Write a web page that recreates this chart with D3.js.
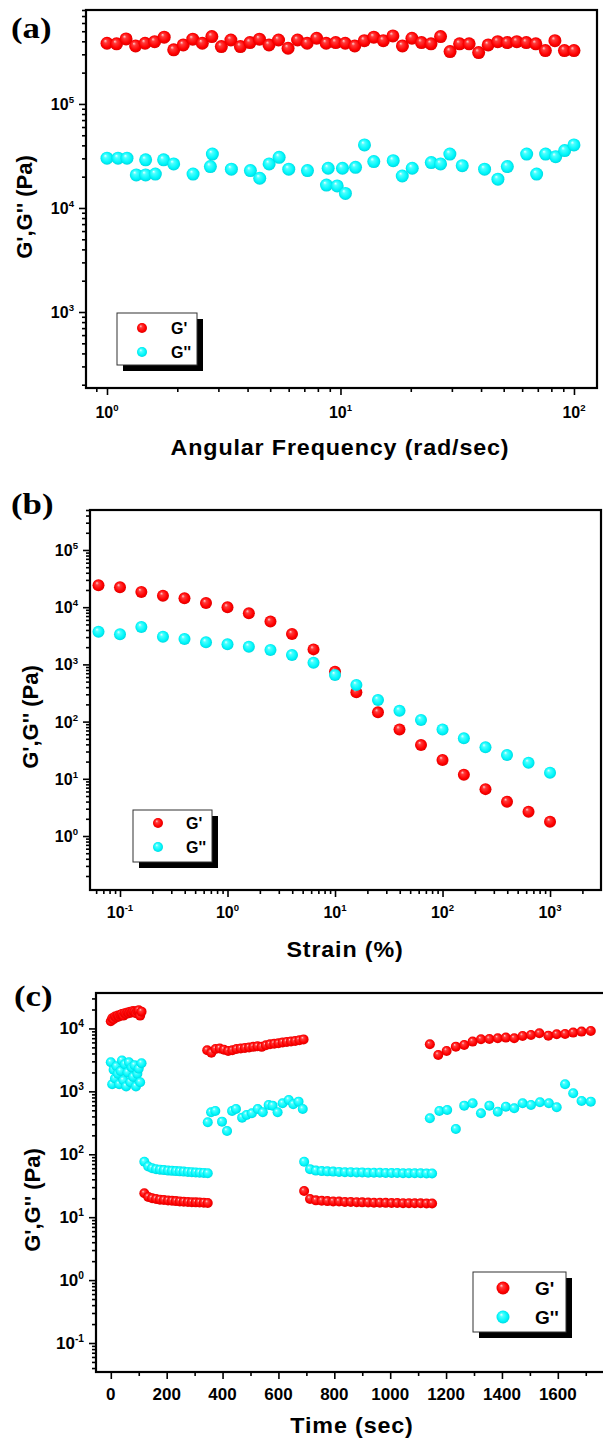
<!DOCTYPE html>
<html>
<head>
<meta charset="utf-8">
<script src="https://cdn.jsdelivr.net/npm/d3@7"></script>
<style>
body { margin: 0; background: #fff; }
text { font-family: "Liberation Sans", Arial, sans-serif; font-weight: bold; fill: #000; }
</style>
</head>
<body>
<div id="chart"></div>
<script>
// (a) frequency sweep
const freqG1 = [1.00,1.099,1.207,1.326,1.456,1.600,1.758,1.931,2.121,2.330,2.560,2.812,3.089,3.393,3.728,4.095,4.498,4.942,5.429,5.964,
  6.551,7.197,7.906,8.685,9.541,10.48,11.51,12.65,13.89,15.26,16.77,18.42,20.23,22.23,24.42,26.83,29.47,32.37,35.56,39.07,
  42.92,47.15,51.79,56.90,62.51,68.66,75.43,82.86,91.03,100];
const modG1a = [3.83e5,3.78e5,4.22e5,3.61e5,3.83e5,3.97e5,4.38e5,3.31e5,3.69e5,4.19e5,3.83e5,4.44e5,3.56e5,4.12e5,3.56e5,3.89e5,4.19e5,3.69e5,4.12e5,3.43e5,
  4.12e5,3.83e5,4.28e5,3.83e5,3.89e5,3.83e5,3.61e5,4.06e5,4.38e5,4.06e5,4.51e5,3.61e5,4.28e5,3.89e5,3.78e5,4.44e5,3.19e5,3.78e5,3.78e5,3.12e5,
  3.69e5,3.97e5,3.89e5,3.97e5,3.89e5,3.78e5,3.26e5,4.06e5,3.26e5,3.26e5];
const freqG2 = [1.00,1.115,1.218,1.335,1.464,1.464,1.611,1.748,1.930,2.337,2.772,2.827,3.410,4.114,4.510,4.949,5.461,6.004,7.222,8.856,
  8.71,9.68,10.2,10.5,11.6,12.67,13.89,16.82,18.39,20.29,24.48,26.83,29.41,33.23,41.42,47.24,51.83,62.72,69.20,75.62,83.48,91.23,100];
const modG2a = [3.01e4,3.01e4,3.01e4,2.08e4,2.90e4,2.08e4,2.12e4,2.90e4,2.65e4,2.12e4,2.50e4,3.30e4,2.36e4,2.29e4,1.93e4,2.65e4,3.07e4,2.36e4,2.29e4,2.41e4,
  1.66e4,1.63e4,2.41e4,1.38e4,2.46e4,4.04e4,2.79e4,2.85e4,2.03e4,2.41e4,2.73e4,2.65e4,3.30e4,2.55e4,2.36e4,1.89e4,2.50e4,3.30e4,2.12e4,3.30e4,
  3.11e4,3.56e4,4.04e4];

// (b) strain sweep
const strain = [0.0631,0.1,0.158,0.251,0.398,0.631,1,1.58,2.51,3.98,6.31,10,15.8,25.1,39.8,63.1,100,158,251,398,631,1000];
const modG1b = [2.42e4,2.23e4,1.85e4,1.59e4,1.43e4,1.18e4,9.95e3,7.8e3,5.6e3,3.4e3,1.83e3,746,325,145,73,39,21.3,11.8,6.6,3.98,2.66,1.78];
const modG2b = [3.73e3,3.36e3,4.5e3,3.05e3,2.78e3,2.43e3,2.24e3,2.04e3,1.79e3,1.46e3,1.07e3,653,437,239,155,107,73,51,35.5,26,19.1,12.8];

// (c) step strain recovery
const timeG1 = [0,5,10,15,20,25,30,35,40,45,50,55,60,65,70,75,80,85,90,95,100,105,110,
  120,134,148,162,176,190,205,219,233,247,261,276,290,304,318,333,347,
  345,360,375,390,405,420,435,450,465,480,495,510,525,540,555,570,585,600,615,630,645,660,675,690,
  692,713,734,755,775,796,817,838,859,880,900,921,942,963,984,1005,1025,1046,1067,1088,1109,1130,1150,
  1142,1172,1202,1235,1265,1295,1325,1355,1385,1414,1444,1474,1504,1534,1566,1596,1626,1655,1685,1718];
const modG1c = [1.3e4,1.45e4,1.4e4,1.55e4,1.5e4,1.6e4,1.55e4,1.65e4,1.7e4,1.6e4,1.75e4,1.7e4,1.8e4,1.75e4,1.85e4,1.8e4,1.9e4,1.85e4,1.75e4,1.9e4,1.95e4,1.6e4,1.85e4,
  24,21,20,19.5,19,18.7,18.4,18.2,18,17.8,17.6,17.4,17.3,17.2,17.1,17,16.8,
  4.5e3,4.1e3,4.7e3,4.8e3,4.6e3,4.4e3,4.5e3,4.7e3,4.8e3,4.9e3,5.0e3,5.1e3,5.2e3,5.1e3,5.4e3,5.6e3,5.7e3,5.8e3,6.0e3,6.1e3,6.2e3,6.3e3,6.5e3,6.7e3,
  26,19.5,18.5,18.2,18,17.8,17.7,17.5,17.5,17.3,17.2,17.1,17,17,16.9,16.8,16.8,16.7,16.7,16.6,16.6,16.5,16.5,
  5.61e3,3.79e3,4.39e3,5.14e3,5.47e3,6.18e3,6.73e3,6.81e3,6.98e3,7.15e3,6.98e3,7.60e3,7.88e3,8.38e3,7.69e3,8.08e3,8.18e3,8.59e3,8.91e3,9.13e3];
const timeG2 = [0,5,10,15,20,25,30,35,40,45,50,55,60,65,70,75,80,85,90,95,100,105,110,
  120,134,148,162,176,190,205,219,233,247,261,276,290,304,318,333,347,
  347,359,374,398,416,434,448,470,486,505,526,544,565,579,597,615,637,653,672,687,
  692,713,734,755,775,796,817,838,859,880,900,921,942,963,984,1005,1025,1046,1067,1088,1109,1130,1150,
  1142,1176,1204,1235,1265,1295,1325,1355,1385,1414,1444,1474,1504,1536,1568,1596,1626,1655,1685,1718];
const modG2c = [2.9e3,1.3e3,2.2e3,1.6e3,2.5e3,1.9e3,1.3e3,2.1e3,3.1e3,1.5e3,2.7e3,1.2e3,2.0e3,2.9e3,1.4e3,2.4e3,1.7e3,2.6e3,1.2e3,1.9e3,2.3e3,1.4e3,2.8e3,
  76,64,60,58,57,56,55,54.5,54,53.5,53,52.5,52,51.5,51,50.5,50,
  322,465,488,330,234,488,525,382,422,448,525,465,608,593,465,646,730,625,686,525,
  76,58,55,54,53.5,53,52.5,52,52,51.5,51.5,51,51,51,50.5,50.5,50.5,50,50,50,50,49.5,49.5,
  373,488,506,252,593,646,448,593,475,571,538,646,608,670,646,558,1297,933,703,686];

const legendNames = ["G'", "G''"];
const panelLetters = ["(a)", "(b)", "(c)"];
const xTitles = ["Angular Frequency (rad/sec)", "Strain (%)", "Time (sec)"];
const yTitle = "G',G'' (Pa)";
const aXExp = [0, 1, 2], aYExp = [3, 4, 5];
const bXExp = [-1, 0, 1, 2, 3], bYExp = [0, 1, 2, 3, 4, 5];
const cXTicks = [0, 200, 400, 600, 800, 1000, 1200, 1400, 1600];
const cXMinor = [100, 300, 500, 700, 900, 1100, 1300, 1500, 1700];
const cYExp = [-1, 0, 1, 2, 3, 4];

const svg = d3.select("#chart").append("svg")
  .attr("width", 603)
  .attr("height", 1440)
  .style("display", "block");

// shiny ball gradients
const defs = svg.append("defs");
const balls = [
  { id: "ballRed", c: ["#ffd2d2", "#ff3a3a", "#ff0000", "#d40000"] },
  { id: "ballCyan", c: ["#eaffff", "#4cffff", "#00f6fa", "#00cfd8"] }
];
balls.forEach(b => {
  const g = defs.append("radialGradient").attr("id", b.id)
    .attr("cx", "50%").attr("cy", "50%").attr("r", "55%")
    .attr("fx", "36%").attr("fy", "30%");
  [0, 0.25, 0.7, 1].forEach((o, i) => g.append("stop").attr("offset", o).attr("stop-color", b.c[i]));
});
const fills = ["url(#ballRed)", "url(#ballCyan)"];

const isPow10 = v => Math.abs(Math.log10(v) - Math.round(Math.log10(v))) < 1e-6;

const stretchText = (g, x, y, str, size, opts = {}) => {
  const t = g.append("text")
    .attr("transform", `translate(${x},${y}) scale(${opts.sx || 1},1)`)
    .attr("text-anchor", opts.anchor || "start")
    .style("font-size", size + "px");
  if (opts.family) t.style("font-family", opts.family);
  if (opts.spacing) t.style("letter-spacing", opts.spacing + "px");
  t.text(str);
  return t;
};

const powLabel = (g, x, y, exp, size, anchor) => {
  const t = g.append("text")
    .attr("x", x).attr("y", y)
    .attr("text-anchor", anchor)
    .style("font-size", size + "px");
  t.append("tspan").text("10");
  t.append("tspan").attr("dy", -size * 0.42).style("font-size", (size * 0.6) + "px").text(exp);
};

const drawPanel = (p) => {
  const g = svg.append("g");
  const x = p.x, y = p.y;

  // ticks (outward)
  const yAx = g.append("g").attr("transform", `translate(${p.l},0)`);
  yAx.call(d3.axisLeft(y).tickValues(p.yMajor).tickSize(7).tickFormat(""));
  yAx.append("g").call(d3.axisLeft(y).tickValues(p.yMinor).tickSize(4).tickFormat(""));
  const xAx = g.append("g").attr("transform", `translate(0,${p.b})`);
  xAx.call(d3.axisBottom(x).tickValues(p.xMajor).tickSize(7).tickFormat(""));
  xAx.append("g").call(d3.axisBottom(x).tickValues(p.xMinor).tickSize(4).tickFormat(""));
  g.selectAll(".domain").remove();
  g.selectAll(".tick line").attr("stroke", "#000").attr("stroke-width", 1.6);

  // frame
  g.append("rect")
    .attr("x", p.l).attr("y", p.t)
    .attr("width", p.r - p.l).attr("height", p.b - p.t)
    .attr("fill", "none").attr("stroke", "#000").attr("stroke-width", 2.2);

  // tick labels
  p.yMajor.forEach(v => powLabel(g, p.l - 12, y(v) + 6, Math.round(Math.log10(v)), p.tickFont, "end"));
  if (p.xLinear) {
    p.xMajor.forEach(v => g.append("text")
      .attr("x", x(v)).attr("y", p.xLabelY)
      .attr("text-anchor", "middle")
      .style("font-size", p.tickFont + "px")
      .text(v));
  } else {
    p.xMajor.forEach(v => powLabel(g, x(v), p.xLabelY, Math.round(Math.log10(v)), p.tickFont, "middle"));
  }

  // data
  p.series.forEach((s, k) => {
    g.append("g").selectAll("circle")
      .data(d3.zip(s.xs, s.ys))
      .enter().append("circle")
      .attr("cx", d => x(d[0]))
      .attr("cy", d => y(d[1]))
      .attr("r", p.rad)
      .attr("fill", fills[k]);
  });

  // titles
  stretchText(g, p.xTitle[0], p.xTitle[1], p.xTitleText, 22, { anchor: "middle", sx: 1.06, spacing: 0.8 });
  g.append("text")
    .attr("transform", `translate(${p.yTitle[0]},${p.yTitle[1]}) rotate(-90)`)
    .attr("text-anchor", "middle")
    .style("font-size", "22px")
    .text(yTitle);
  stretchText(g, p.letter[0], p.letter[1], p.letterText, 29,
    { sx: 1.2, family: "'Liberation Serif', 'Times New Roman', serif" });

  // legend
  const L = p.legend;
  const lg = g.append("g");
  lg.append("rect").attr("x", L.x + 6).attr("y", L.y + 6).attr("width", L.w).attr("height", L.h).attr("fill", "#000");
  lg.append("rect").attr("x", L.x).attr("y", L.y).attr("width", L.w).attr("height", L.h)
    .attr("fill", "#fff").attr("stroke", "#333").attr("stroke-width", 1);
  legendNames.forEach((name, k) => {
    lg.append("circle")
      .attr("cx", L.mx).attr("cy", L.my[k]).attr("r", L.mr)
      .attr("fill", fills[k]);
    lg.append("text")
      .attr("x", L.tx).attr("y", L.my[k] + L.font * 0.36)
      .style("font-size", L.font + "px")
      .text(name);
  });
};

// (a)
const xa = d3.scaleLog().domain([0.813, 125.5]).range([86, 597]);
const ya = d3.scaleLog().domain([186, 8.0e5]).range([388, 10]);
drawPanel({
  l: 86, r: 597, t: 10, b: 388, x: xa, y: ya,
  xMajor: aXExp.map(e => 10 ** e), xMinor: xa.ticks().filter(v => !isPow10(v)),
  yMajor: aYExp.map(e => 10 ** e), yMinor: ya.ticks().filter(v => !isPow10(v)),
  tickFont: 16, xLabelY: 418, rad: 6.5,
  series: [{ xs: freqG1, ys: modG1a }, { xs: freqG2, ys: modG2a }],
  xTitle: [340, 455], xTitleText: xTitles[0], yTitle: [32, 207],
  letter: [11, 38], letterText: panelLetters[0],
  legend: { x: 117, y: 313, w: 80, h: 52, mx: 142, my: [328, 352], mr: 5, tx: 171, font: 16 }
});

// (b)
const xb = d3.scaleLog().domain([0.0526, 2979]).range([90, 601]);
const yb = d3.scaleLog().domain([0.1138, 5.0e5]).range([890, 510]);
drawPanel({
  l: 90, r: 601, t: 510, b: 890, x: xb, y: yb,
  xMajor: bXExp.map(e => 10 ** e), xMinor: xb.ticks().filter(v => !isPow10(v)),
  yMajor: bYExp.map(e => 10 ** e), yMinor: yb.ticks().filter(v => !isPow10(v)),
  tickFont: 16, xLabelY: 918, rad: 6,
  series: [{ xs: strain, ys: modG1b }, { xs: strain, ys: modG2b }],
  xTitle: [345, 957], xTitleText: xTitles[1], yTitle: [38, 717],
  letter: [11, 514], letterText: panelLetters[1],
  legend: { x: 133, y: 810, w: 79, h: 52, mx: 158, my: [823, 847], mr: 5, tx: 186, font: 16 }
});

// (c)
const xc = d3.scaleLinear().domain([-53, 1800]).range([96, 613.7]);
const yc = d3.scaleLog().domain([0.0346, 3.66e4]).range([1372, 993]);
drawPanel({
  l: 96, r: 613.7, t: 993, b: 1372, x: xc, y: yc, xLinear: true,
  xMajor: cXTicks, xMinor: cXMinor,
  yMajor: cYExp.map(e => 10 ** e), yMinor: yc.ticks().filter(v => !isPow10(v)),
  tickFont: 17, xLabelY: 1400, rad: 5,
  series: [{ xs: timeG1, ys: modG1c }, { xs: timeG2, ys: modG2c }],
  xTitle: [352, 1433], xTitleText: xTitles[2], yTitle: [40, 1200],
  letter: [14, 1006], letterText: panelLetters[2],
  legend: { x: 473, y: 1272, w: 93, h: 60, mx: 503, my: [1288, 1317], mr: 6.5, tx: 535, font: 19 }
});
</script>
</body>
</html>
